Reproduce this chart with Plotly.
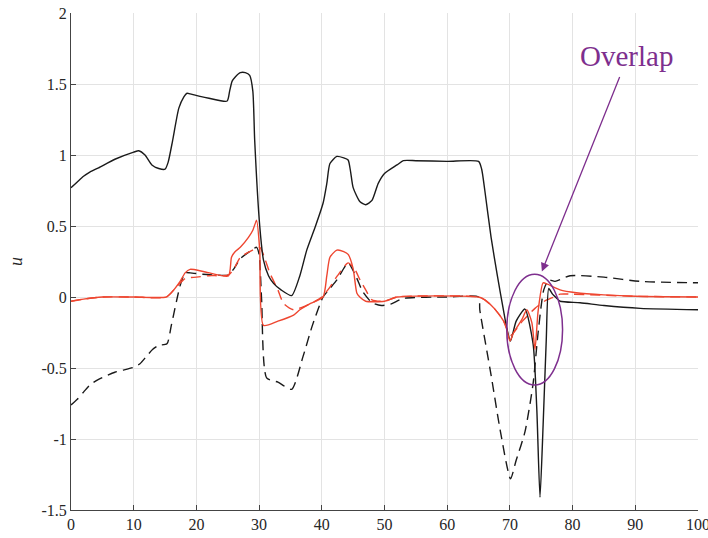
import plotly.graph_objects as go

# ---- data ----
bs_x = [0, 1, 2, 3, 4.4, 7, 10, 10.8, 11.8, 12.9, 14, 15, 15.5, 16.2, 17.2, 18, 18.5, 19, 20.4, 22, 24.9, 25.3, 25.7, 26.2, 27, 27.8, 28.5, 29, 29.3, 30.1, 30.7, 31.5, 32.3, 33.5, 35.2, 36.5, 37.6, 39, 40.2, 40.8, 41.3, 42.4, 43.5, 44.2, 44.6, 45, 46.1, 47, 48, 49, 50, 52, 53, 55, 60, 65, 65.5, 66, 67, 68, 69, 69.5, 70.1, 71, 72.4, 73.7, 74.3, 74.8, 75.3, 75.8, 76.2, 76.8, 77.5, 78, 81.2, 85, 90.8, 100]
bs_y = [0.77, 0.81, 0.85, 0.88, 0.91, 0.97, 1.02, 1.03, 1.0, 0.93, 0.905, 0.90, 0.95, 1.1, 1.33, 1.41, 1.435, 1.43, 1.415, 1.4, 1.38, 1.45, 1.52, 1.55, 1.58, 1.58, 1.56, 1.45, 1.1, 0.5, 0.26, 0.15, 0.096, 0.05, 0.01, 0.15, 0.33, 0.5, 0.66, 0.8, 0.94, 0.99, 0.98, 0.965, 0.88, 0.77, 0.67, 0.65, 0.68, 0.8, 0.87, 0.93, 0.96, 0.96, 0.955, 0.955, 0.9, 0.75, 0.42, 0.15, -0.1, -0.22, -0.31, -0.17, -0.085, -0.33, -0.8, -1.41, -0.9, -0.3, 0.06, 0.02, -0.01, -0.03, -0.04, -0.06, -0.08, -0.09]

bd_x = [0, 1, 2, 3, 4.4, 7, 10, 11, 12, 13, 14, 15.3, 16, 17.4, 18.2, 19, 21, 23, 25.1, 26, 27, 28.5, 29.6, 30.0, 30.4, 31.2, 33, 35.2, 37, 38.5, 40.2, 41.3, 42.4, 44.2, 45.5, 46.5, 48, 49.5, 51, 53, 60, 65, 65.2, 67, 68.5, 70.1, 71, 72.4, 73.7, 74.5, 75.4, 76.2, 77.2, 79.6, 85, 90.8, 100]
bd_y = [-0.76, -0.72, -0.67, -0.62, -0.58, -0.53, -0.495, -0.47, -0.42, -0.37, -0.34, -0.33, -0.2, 0.08, 0.17, 0.17, 0.16, 0.155, 0.155, 0.2, 0.27, 0.32, 0.35, 0.3, -0.02, -0.57, -0.6, -0.65, -0.42, -0.2, 0.0, 0.06, 0.12, 0.24, 0.14, 0.04, -0.04, -0.06, -0.05, -0.01, 0.0, 0.0, -0.09, -0.55, -0.95, -1.28, -1.15, -0.95, -0.61, -0.25, 0.05, 0.12, 0.11, 0.15, 0.14, 0.11, 0.10]

rs_x = [0, 2, 5, 10, 15.2, 16, 17.4, 18.2, 19, 21.1, 25.1, 25.6, 26.2, 27, 28.3, 29.0, 29.6, 30.1, 30.7, 33, 35.5, 36.5, 38, 40.2, 40.8, 41.3, 42.4, 43.5, 44.2, 45, 45.6, 46.1, 47, 50, 52, 65, 66, 67.5, 69, 69.5, 70.0, 70.6, 71.9, 72.7, 73.5, 74.0, 74.5, 75.3, 76, 78, 80.6, 85, 90, 100]
rs_y = [-0.03, -0.015, 0.0, 0.0, 0.0, 0.03, 0.11, 0.17, 0.195, 0.18, 0.148, 0.28, 0.32, 0.35, 0.42, 0.47, 0.54, 0.33, -0.2, -0.17, -0.127, -0.09, -0.05, 0.0, 0.15, 0.28, 0.33, 0.32, 0.3, 0.2, 0.026, -0.002, -0.03, -0.03, 0.0, 0.0, -0.02, -0.08, -0.17, -0.23, -0.31, -0.25, -0.16, -0.09, -0.18, -0.37, -0.1, 0.10, 0.09, 0.05, 0.03, 0.015, 0.005, 0.0]

rd_x = [0, 2, 5, 10, 15.2, 17, 18.2, 20, 22, 25.1, 26, 27, 28.5, 30.1, 31, 31.7, 33, 33.9, 35.5, 37, 38.5, 40, 41.3, 42.5, 44.2, 45.2, 46.1, 47, 48, 50, 52, 65, 66, 67.5, 69, 70.1, 72, 74, 75.5, 77, 78, 80, 90, 100]
rd_y = [-0.03, -0.015, 0.0, 0.0, 0.0, 0.08, 0.13, 0.14, 0.15, 0.155, 0.2, 0.28, 0.32, 0.35, 0.26, 0.17, 0.05, -0.045, -0.09, -0.07, -0.04, 0.0, 0.07, 0.15, 0.24, 0.2, 0.12, 0.05, -0.02, -0.03, 0.0, 0.0, -0.02, -0.08, -0.17, -0.27, -0.17, -0.08, -0.03, 0.0, 0.02, 0.02, 0.005, 0.0]

x_ticks = [0, 10, 20, 30, 40, 50, 60, 70, 80, 90, 100]
y_ticks = [-1.5, -1, -0.5, 0, 0.5, 1, 1.5, 2]
y_tick_text = ["-1.5", "-1", "-0.5", "0", "0.5", "1", "1.5", "2"]

# annotation geometry (data units)
ellipse_x = [69.5, 78.4]
ellipse_y = [-0.62, 0.16]
arrow_head = (75.1, 0.18)
arrow_tail = (87.6, 1.56)
label_pos = (88.6, 1.70)

BLACK = "#1a1a1a"
RED = "#EE4630"
PURPLE = "#7E2F8E"
SERIF = "Liberation Serif, DejaVu Serif, serif"
SM = 0.6

fig = go.Figure()
fig.add_trace(go.Scatter(x=bd_x, y=bd_y, mode="lines", line=dict(color=BLACK, width=1.4, dash="10px,6px", shape="spline", smoothing=SM)))
fig.add_trace(go.Scatter(x=rd_x, y=rd_y, mode="lines", line=dict(color=RED, width=1.4, dash="10px,6px", shape="spline", smoothing=SM)))
fig.add_trace(go.Scatter(x=bs_x, y=bs_y, mode="lines", line=dict(color=BLACK, width=1.4, shape="spline", smoothing=SM)))
fig.add_trace(go.Scatter(x=rs_x, y=rs_y, mode="lines", line=dict(color=RED, width=1.4, shape="spline", smoothing=SM)))

fig.add_shape(type="circle", xref="x", yref="y",
              x0=ellipse_x[0], x1=ellipse_x[1], y0=ellipse_y[0], y1=ellipse_y[1],
              line=dict(color=PURPLE, width=1.5))
fig.add_annotation(x=arrow_head[0], y=arrow_head[1], ax=arrow_tail[0], ay=arrow_tail[1],
                   xref="x", yref="y", axref="x", ayref="y", text="",
                   showarrow=True, arrowhead=2, arrowsize=1.3, arrowwidth=1.3, arrowcolor=PURPLE)
fig.add_annotation(x=label_pos[0], y=label_pos[1], xref="x", yref="y", text="Overlap",
                   showarrow=False, font=dict(family=SERIF, size=29, color=PURPLE))

fig.update_layout(
    width=708, height=538,
    margin=dict(l=71, r=10, t=13, b=28),
    paper_bgcolor="white", plot_bgcolor="white",
    showlegend=False,
    font=dict(family=SERIF, size=16, color="#262626"),
)
fig.update_xaxes(range=[0, 100], tickvals=x_ticks, ticks="inside", ticklen=5, tickcolor="#444",
                 showgrid=True, gridcolor="#e3e3e3", gridwidth=1, zeroline=False,
                 showline=True, linecolor="#444", linewidth=1, automargin=False,
                 ticklabeloverflow="allow",
                 tickfont=dict(family=SERIF, size=16, color="#262626"))
fig.update_yaxes(range=[-1.5, 2], tickvals=y_ticks, ticktext=y_tick_text, ticks="inside", ticklen=5, tickcolor="#444",
                 showgrid=True, gridcolor="#e3e3e3", gridwidth=1, zeroline=False,
                 showline=True, linecolor="#444", linewidth=1, automargin=False,
                 ticklabeloverflow="allow",
                 tickfont=dict(family=SERIF, size=16, color="#262626"),
                 title=dict(text="<i>u</i>", font=dict(family=SERIF, size=18, color="#262626"), standoff=14))

fig.write_html("out.html", config={"displayModeBar": False},
               post_script="document.body.style.margin='0';")
